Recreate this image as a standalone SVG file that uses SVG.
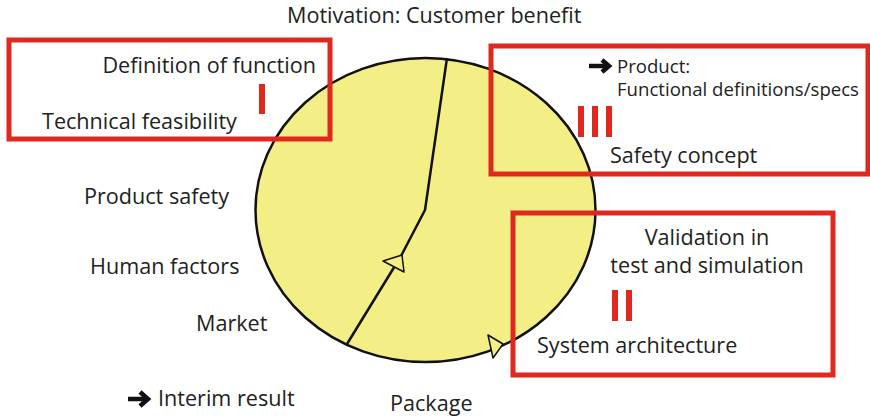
<svg xmlns="http://www.w3.org/2000/svg" width="870" height="417" viewBox="0 0 870 417">
<style>
text{font-family:"Open Sans","Liberation Sans",sans-serif;fill:#222;}
.l{font-size:21.6px;}
.s{font-size:18.6px;}
.ar{fill:none;stroke:#111;stroke-width:4.5;stroke-linejoin:miter;}
.box{fill:none;stroke:#e0281e;stroke-width:5;}
.bar{fill:#e0281e;}
.ln{fill:none;stroke:#111;stroke-width:2.5;stroke-linejoin:round;}
.tri{fill:#f4ee86;stroke:#111;stroke-width:1.5;stroke-linejoin:round;}
</style>
<rect width="870" height="417" fill="#fff"/>
<g id="cycle">
<ellipse cx="425.5" cy="210" rx="170" ry="152" fill="#f4ee86" stroke="#111" stroke-width="2.5"/>
</g>
<g id="connectors">
<polyline class="ln" points="447,58 425,210 401,256 347,344"/>
<polygon class="tri" points="383,261 402,255 404,272"/>
<polygon class="tri" points="488,335 503,344 493,358"/>
</g>
<g id="title"><text class="l" x="287" y="23">Motivation: Customer benefit</text></g>
<g id="box-I">
<rect class="box" x="9" y="40" width="321" height="99"/>
<text class="l" x="316" y="73" text-anchor="end">Definition of function</text>
<text class="l" x="42" y="129">Technical feasibility</text>
<rect class="bar" x="259" y="84" width="6" height="30"/>
</g>
<g id="box-III">
<rect class="box" x="491" y="46" width="377" height="128"/>
<path class="ar" d="M589,66 H608 M602,60 L609,66 L602,72" stroke-width="4"/>
<text class="s" x="617" y="73">Product:</text>
<text class="s" x="617" y="96">Functional definitions/specs</text>
<rect class="bar" x="578" y="106" width="6" height="31"/>
<rect class="bar" x="592" y="106" width="6" height="31"/>
<rect class="bar" x="606" y="106" width="6" height="31"/>
<text class="l" x="610" y="163">Safety concept</text>
</g>
<g id="box-II">
<rect class="box" x="513" y="213" width="320" height="162"/>
<text class="l" x="707" y="245" text-anchor="middle">Validation in</text>
<text class="l" x="707" y="273" text-anchor="middle">test and simulation</text>
<rect class="bar" x="612" y="290" width="6" height="31"/>
<rect class="bar" x="626" y="290" width="6" height="31"/>
<text class="l" x="537" y="353">System architecture</text>
</g>
<g id="labels">
<text class="l" x="84" y="204">Product safety</text>
<text class="l" x="90" y="274">Human factors</text>
<text class="l" x="196" y="331">Market</text>
<path class="ar" d="M128,399 H146 M140,392 L148,399 L140,406"/>
<text class="l" x="158" y="406">Interim result</text>
<text class="l" x="390" y="411">Package</text>
</g>
</svg>
